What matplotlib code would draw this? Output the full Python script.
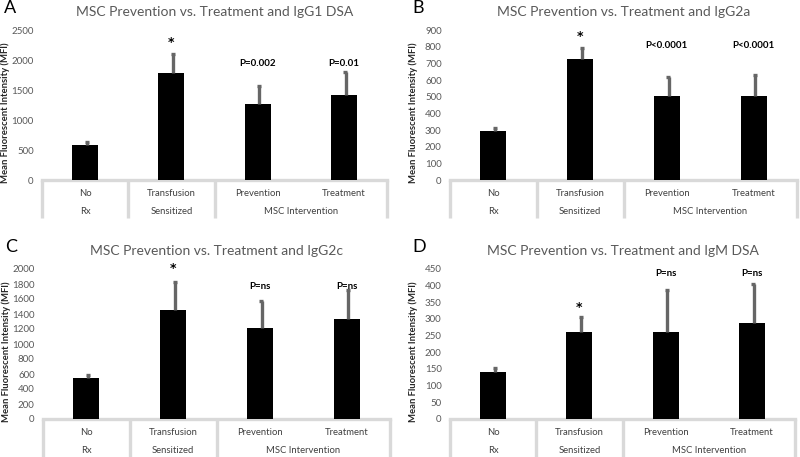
import matplotlib
matplotlib.use("Agg")
import matplotlib.pyplot as plt
import numpy as np

plt.rc('font', family=['Lato', 'DejaVu Sans'], size=7)

categories = ["No", "Transfusion", "Prevention", "Treatment"]
groups = ["Rx", "Sensitized", "MSC Intervention"]

# panel A - IgG1
igg1_mean = [590, 1790, 1260, 1410]
igg1_err = [45, 310, 300, 390]
igg1_notes = ["", "*", "P=0.002", "P=0.01"]
igg1_note_y = [0, 2300, 1950, 1950]

# panel B - IgG2a
igg2a_mean = [292, 728, 506, 506]
igg2a_err = [18, 62, 115, 125]
igg2a_notes = ["", "*", "P<0.0001", "P<0.0001"]
igg2a_note_y = [0, 864, 810, 810]

# panel C - IgG2c
igg2c_mean = [550, 1460, 1220, 1340]
igg2c_err = [40, 370, 360, 380]
igg2c_notes = ["", "*", "P=ns", "P=ns"]
igg2c_note_y = [0, 2013, 1770, 1770]

# panel D - IgM
igm_mean = [140, 260, 260, 287]
igm_err = [13, 45, 126, 119]
igm_notes = ["", "*", "P=ns", "P=ns"]
igm_note_y = [0, 336, 438, 438]

panels = [
    ("A", "MSC Prevention vs. Treatment and IgG1 DSA", igg1_mean, igg1_err, igg1_notes, igg1_note_y, 2500, 500,
     [42/800, 1-180/457, 345/800, 150/457]),
    ("B", "MSC Prevention vs. Treatment and IgG2a", igg2a_mean, igg2a_err, igg2a_notes, igg2a_note_y, 900, 100,
     [450/800, 1-180/457, 347/800, 150/457]),
    ("C", "MSC Prevention vs. Treatment and IgG2c", igg2c_mean, igg2c_err, igg2c_notes, igg2c_note_y, 2000, 200,
     [43/800, 1-419/457, 347/800, 150/457]),
    ("D", "MSC Prevention vs. Treatment and IgM DSA", igm_mean, igm_err, igm_notes, igm_note_y, 450, 50,
     [450/800, 1-419/457, 345/800, 150/457]),
]

fig = plt.figure(figsize=(8, 4.57), dpi=100)
grid_col = "#d9d9d9"
x = np.arange(len(categories))

for letter, title, mean, err, notes, note_y, ymax, step, pos in panels:
    ax = fig.add_axes(pos)
    mean = np.array(mean)
    err = np.array(err)
    ax.bar(x, mean, width=0.3, color="black", zorder=2)
    ax.vlines(x + 0.02, mean, mean + err, color="#666666", lw=2.4, zorder=3)
    ax.hlines(mean + err, x - 0.005, x + 0.04, color="#666666", lw=2.4, zorder=3)
    for xi, t, ty in zip(x, notes, note_y):
        if t == "*":
            ax.text(xi, ty, t, ha="center", va="center", fontweight="bold",
                    fontsize=9, family="DejaVu Sans", color="black")
        elif t:
            ax.text(xi, ty, t, ha="center", va="center", fontweight="bold",
                    fontsize=7, color="black")

    ax.set_xlim(-0.5, 3.5)
    ax.set_ylim(0, ymax)
    ax.set_yticks(np.arange(0, ymax + 1, step))
    ax.set_xticks([])
    ax.tick_params(axis="y", length=0, pad=6, labelsize=7, labelcolor="#595959")
    for s in ax.spines.values():
        s.set_visible(False)
    ax.set_ylabel("Mean Fluorescent Intensity (MFI)", fontweight="bold", fontsize=6.8, color="#262626")
    ax.yaxis.set_label_coords(-0.092, 0.45)
    ax.set_title(title, fontsize=10, color="#595959", pad=10)

    # category box under the axis
    ax.plot([0, 1], [0, 0], transform=ax.transAxes, color=grid_col, lw=2.4, clip_on=False, zorder=1)
    for xd in [0, 0.25, 0.5, 1.0]:
        ax.plot([xd, xd], [0, -0.25], transform=ax.transAxes, color=grid_col, lw=2.4,
                clip_on=False, solid_capstyle="butt")
    for xi, c in zip(x, categories):
        ax.text((xi + 0.5) / 4, -0.09, c, transform=ax.transAxes, ha="center", va="center",
                fontsize=6.8, color="#404040")
    for gx, g in zip([0.125, 0.375, 0.75], groups):
        ax.text(gx, -0.21, g, transform=ax.transAxes, ha="center", va="center",
                fontsize=6.8, color="#404040")

    fig.text(pos[0] - 40/800 + 2/800, pos[1] + pos[3] + 30/457, letter, fontsize=13,
             ha="left", va="top", color="black")

fig.savefig("out.png", dpi=100)
